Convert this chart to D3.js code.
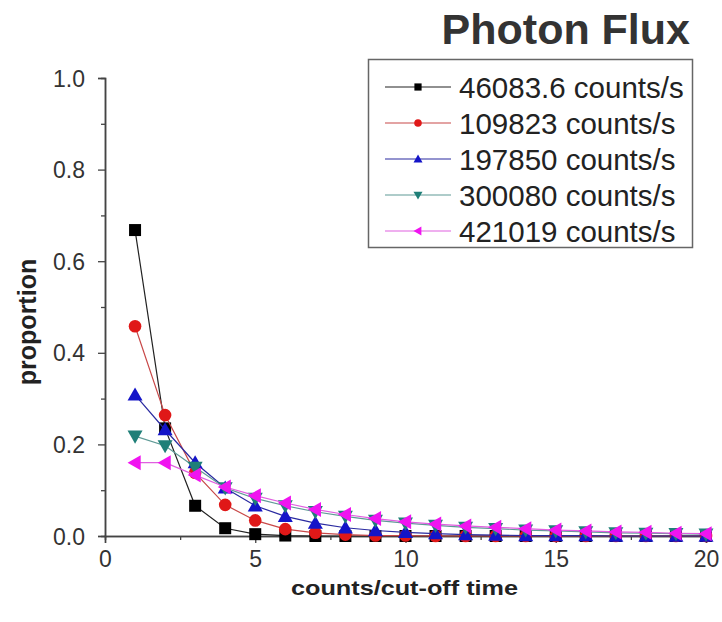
<!DOCTYPE html>
<html>
<head>
<meta charset="utf-8">
<script src="https://cdn.jsdelivr.net/npm/d3@7"></script>
<style>
  html, body { margin: 0; padding: 0; background: #fff; }
  svg { display: block; font-family: "Liberation Sans", Arial, sans-serif; }
</style>
</head>
<body>
<svg id="chart" width="722" height="622"></svg>
<script>
// counts per cut-off time window (x) and the proportion of windows (y)
const counts = d3.range(1, 21);

const seriesNames = [
  "46083.6 counts/s",
  "109823 counts/s",
  "197850 counts/s",
  "300080 counts/s",
  "421019 counts/s"
];

const flux46083 = [0.668, 0.235, 0.066, 0.017, 0.004, 0.001, 0, 0, 0, 0, 0, 0, 0, 0, 0, 0, 0, 0, 0, 0];
const flux109823 = [0.458, 0.264, 0.138, 0.068, 0.034, 0.015, 0.007, 0.003, 0.001, 0.001, 0, 0, 0, 0, 0, 0, 0, 0, 0, 0];
const flux197850 = [0.308, 0.232, 0.16, 0.105, 0.066, 0.043, 0.028, 0.018, 0.012, 0.008, 0.005, 0.003, 0.002, 0.001, 0.001, 0.001, 0, 0, 0, 0];
const flux300080 = [0.218, 0.197, 0.15, 0.105, 0.082, 0.066, 0.053, 0.043, 0.034, 0.028, 0.023, 0.019, 0.016, 0.013, 0.011, 0.009, 0.007, 0.006, 0.005, 0.004];
const flux421019 = [0.16, 0.16, 0.133, 0.107, 0.088, 0.072, 0.058, 0.047, 0.038, 0.031, 0.026, 0.022, 0.019, 0.016, 0.013, 0.011, 0.009, 0.008, 0.006, 0.005];

const xTicks = [0, 5, 10, 15, 20];
const yTicks = [0, 0.2, 0.4, 0.6, 0.8, 1.0];

const colors = ["#000000", "#e01818", "#1414c8", "#1f7f78", "#f014f0"];
const lineColors = ["#222222", "#c84848", "#2a2aa0", "#5f9a96", "#e060e0"];
const symbols = ["square", "circle", "triangleUp", "triangleDown", "triangleLeft"];

const series = seriesNames.map((name, i) => ({
  name,
  color: colors[i],
  lineColor: lineColors[i],
  symbol: symbols[i],
  values: [flux46083, flux109823, flux197850, flux300080, flux421019][i]
}));

const svg = d3.select("#chart");

const x = d3.scaleLinear().domain([0, 20]).range([105, 706]);
const y = d3.scaleLinear().domain([0, 1]).range([536, 78]);

// marker shapes centred on (0,0)
function markerPath(kind) {
  const s = 6, t = 7.5;
  switch (kind) {
    case "square": return `M${-s},${-s}H${s}V${s}H${-s}Z`;
    case "circle": return d3.symbol(d3.symbolCircle, 125)();
    case "triangleUp": return `M0,${-t}L${t},${t * 0.75}L${-t},${t * 0.75}Z`;
    case "triangleDown": return `M0,${t}L${t},${-t * 0.75}L${-t},${-t * 0.75}Z`;
    case "triangleLeft": return `M${-t},0L${t * 0.75},${-t}L${t * 0.75},${t}Z`;
  }
}

// axes
const axisColor = "#444";
const yAxis = d3.axisLeft(y).tickValues(yTicks).tickFormat(d3.format(".1f")).tickSize(7).tickPadding(13);
const yMinor = d3.axisLeft(y).tickValues(d3.range(0.1, 1, 0.2)).tickFormat("").tickSize(4);
const xAxis = d3.axisBottom(x).tickValues(xTicks).tickFormat(d3.format("d")).tickSize(7).tickPadding(5);
const xMinor = d3.axisBottom(x).tickValues([2.5, 7.5, 12.5, 17.5]).tickFormat("").tickSize(4);

function styleAxis(g) {
  g.select(".domain").attr("stroke", axisColor).attr("stroke-width", 1.5);
  g.selectAll(".tick line").attr("stroke", axisColor).attr("stroke-width", 1.3);
  g.selectAll(".tick text").attr("fill", "#333").style("font-size", "23px");
}

svg.append("g").attr("transform", "translate(105,0)").call(yMinor).call(styleAxis);
svg.append("g").attr("transform", "translate(105,0)").call(yAxis).call(styleAxis)
  .selectAll(".tick text").attr("dy", "0.35em");
svg.append("g").attr("transform", "translate(0,536)").call(xMinor).call(styleAxis);
svg.append("g").attr("transform", "translate(0,536)").call(xAxis).call(styleAxis)
  .selectAll(".tick text").attr("dy", "0.82em");

// axis titles
svg.append("text")
  .attr("transform", `translate(36,322) rotate(-90)`)
  .attr("text-anchor", "middle")
  .style("font-size", "25px").style("font-weight", "bold").attr("fill", "#222")
  .text("proportion");

svg.append("text")
  .attr("x", 291).attr("y", 595)
  .attr("textLength", 227).attr("lengthAdjust", "spacingAndGlyphs")
  .style("font-size", "21px").style("font-weight", "bold").attr("fill", "#222")
  .text("counts/cut-off time");

// title
svg.append("text")
  .attr("x", 690).attr("y", 44)
  .attr("text-anchor", "end")
  .style("font-size", "43px").style("font-weight", "bold").attr("fill", "#333")
  .text("Photon Flux");

// series lines and markers
const line = d3.line().x((d, i) => x(counts[i])).y(d => y(d));
const plot = svg.append("g");
series.forEach(s => {
  plot.append("path")
    .attr("d", line(s.values))
    .attr("fill", "none")
    .attr("stroke", s.lineColor)
    .attr("stroke-width", 1.2);
  plot.append("g").selectAll("path")
    .data(s.values)
    .join("path")
    .attr("transform", (d, i) => `translate(${x(counts[i])},${y(d)})`)
    .attr("d", markerPath(s.symbol))
    .attr("fill", s.color);
});

// legend
const legend = svg.append("g");
legend.append("rect")
  .attr("x", 368.5).attr("y", 59.5).attr("width", 324).attr("height", 188)
  .attr("fill", "#fff").attr("stroke", "#666").attr("stroke-width", 1.5);
const rowY = d3.scaleLinear().domain([0, 4]).range([87, 231]);
series.forEach((s, i) => {
  const cy = rowY(i);
  legend.append("line")
    .attr("x1", 385).attr("x2", 451).attr("y1", cy).attr("y2", cy)
    .attr("stroke", s.lineColor).attr("stroke-width", 1.2);
  legend.append("path")
    .attr("transform", `translate(418,${cy}) scale(0.6)`)
    .attr("d", markerPath(s.symbol))
    .attr("fill", s.color);
  legend.append("text")
    .attr("x", 459).attr("y", cy).attr("dy", "0.36em")
    .style("font-size", "29.5px").attr("fill", "#222")
    .text(s.name);
});
</script>
</body>
</html>
